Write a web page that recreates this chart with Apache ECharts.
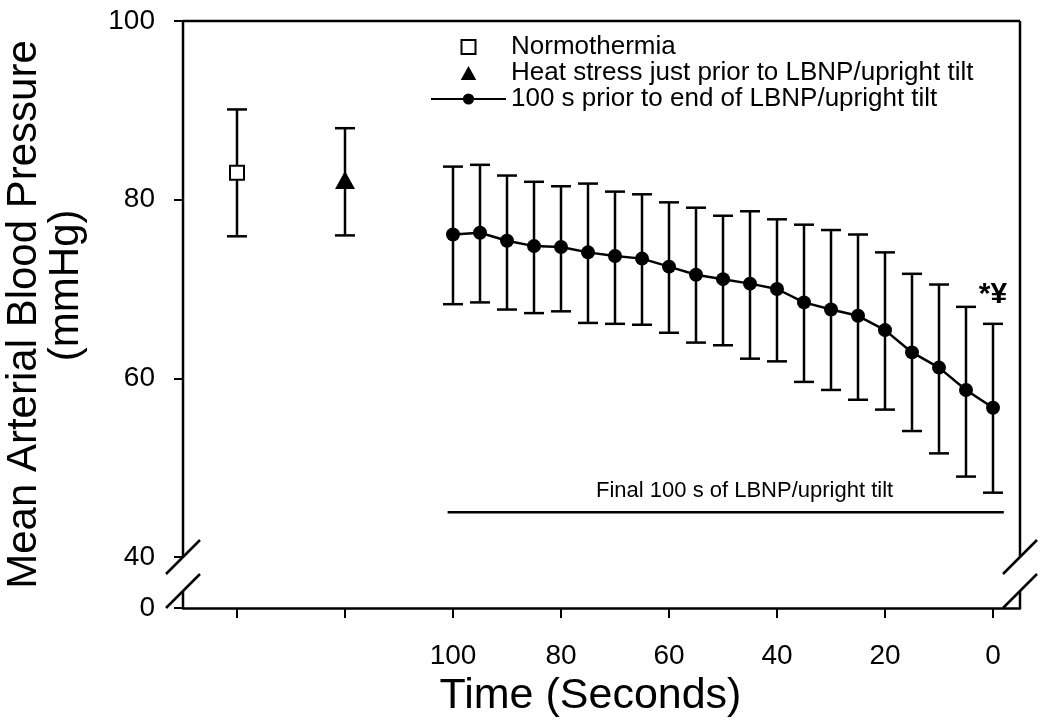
<!DOCTYPE html>
<html>
<head>
<meta charset="utf-8">
<script src="https://cdn.jsdelivr.net/npm/echarts@6/dist/echarts.min.js"></script>
<style>
  html, body { margin: 0; padding: 0; background: #fff; }
  #chart { width: 1041px; height: 728px; }
</style>
</head>
<body>
<div id="chart"></div>
<script>
// time before end of LBNP / upright tilt (s)
var times = [100, 95, 90, 85, 80, 75, 70, 65, 60, 55, 50, 45, 40, 35, 30, 25, 20, 15, 10, 5, 0]
var meanMAP = [76.1, 76.3, 75.4, 74.8, 74.7, 74.1, 73.7, 73.4, 72.5, 71.6, 71.1, 70.6, 70.0, 68.5, 67.7, 67.0, 65.4, 62.9, 61.2, 58.7, 56.7]
var upperMAP = [83.7, 83.9, 82.7, 82.0, 81.5, 81.8, 80.9, 80.6, 79.7, 79.1, 78.2, 78.7, 77.8, 77.2, 76.6, 76.1, 74.1, 71.7, 70.5, 68.0, 66.1]
var lowerMAP = [68.3, 68.5, 67.7, 67.3, 67.5, 66.2, 66.1, 66.0, 65.1, 64.0, 63.7, 62.2, 61.9, 59.6, 58.7, 57.6, 56.5, 54.1, 51.6, 49.0, 47.2]

// the two baseline conditions, placed left of the time axis
var normoX = 140
var normoMAP = [83.0, 75.9, 90.1] // mean, lower, upper
var heatX = 120
var heatMAP = [82.2, 76.0, 88.0]

var xTickValues = [140, 120, 100, 80, 60, 40, 20, 0]
var xLabelValues = [100, 80, 60, 40, 20, 0]

var finalBar = [[101, 45], [-2, 45]]
var finalText = 'Final 100 s of LBNP/upright tilt'
var finalTextPos = [46, 47.4]
var sigText = '*¥'

var names = [
  'Normothermia',
  'Heat stress just prior to LBNP/upright tilt',
  '100 s prior to end of LBNP/upright tilt',
]

var FONT = 'Liberation Sans, Arial, sans-serif'

var errData = times.map(function (t, i) {
  return [t, lowerMAP[i], upperMAP[i]]
})
errData.push([normoX, normoMAP[1], normoMAP[2]])
errData.push([heatX, heatMAP[1], heatMAP[2]])

function renderErrorBar(params, api) {
  var x = api.value(0)
  var lo = api.coord([x, api.value(1)])
  var hi = api.coord([x, api.value(2)])
  var hw = 10
  var style = { stroke: '#000', lineWidth: 2.5 }
  return {
    type: 'group',
    children: [
      { type: 'line', shape: { x1: lo[0], y1: lo[1], x2: hi[0], y2: hi[1] }, style: style },
      { type: 'line', shape: { x1: hi[0] - hw, y1: hi[1], x2: hi[0] + hw, y2: hi[1] }, style: style },
      { type: 'line', shape: { x1: lo[0] - hw, y1: lo[1], x2: lo[0] + hw, y2: lo[1] }, style: style },
    ],
  }
}

var chart = echarts.init(document.getElementById('chart'))
chart.setOption({
  animation: false,
  backgroundColor: '#fff',
  textStyle: { fontFamily: FONT, color: '#000' },
  grid: { left: 183, right: 21, top: 21, bottom: 120, outerBoundsMode: 'none' },
  legend: {
    orient: 'vertical',
    left: 425,
    top: 29,
    itemWidth: 75,
    itemHeight: 14,
    itemGap: 0,
    textStyle: { fontSize: 26, lineHeight: 26, color: '#000', fontFamily: FONT },
    data: [
      { name: names[0], icon: 'path://M0,0H10V10H0Z', itemStyle: { color: '#fff', borderColor: '#000', borderWidth: 2 } },
      { name: names[1], icon: 'path://M5,0L10,9H0Z', itemStyle: { color: '#000' } },
      { name: names[2] },
    ],
  },
  xAxis: {
    type: 'value',
    min: -5,
    max: 150,
    inverse: true,
    name: 'Time (Seconds)',
    nameLocation: 'middle',
    nameGap: 66,
    nameTextStyle: { fontSize: 43, color: '#000', fontFamily: FONT, padding: [0, 22, 0, 0] },
    axisLine: { show: true, onZero: false, lineStyle: { color: '#000', width: 2.5 } },
    axisTick: { show: true, length: 10, customValues: xTickValues, lineStyle: { color: '#000', width: 2 } },
    axisLabel: { customValues: xLabelValues, fontSize: 28, margin: 34, color: '#000', fontFamily: FONT },
    splitLine: { show: false },
  },
  yAxis: {
    type: 'value',
    min: 0,
    max: 100,
    interval: 20,
    // gap is in data units: 5.71 units ~ 51 px at this scale
    breaks: [{ start: 0, end: 40, gap: 5.71 }],
    breakArea: { show: false },
    breakLabelLayout: { moveOverlap: false },
    name: 'Mean Arterial Blood Pressure\n     (mmHg)',
    nameLocation: 'middle',
    nameRotate: 90,
    nameGap: 96,
    nameTextStyle: { fontSize: 42, lineHeight: 42, align: 'center', color: '#000', fontFamily: FONT },
    axisLine: { show: false, onZero: false },
    axisTick: { show: true, length: 9, lineStyle: { color: '#000', width: 2 } },
    axisLabel: { fontSize: 28, margin: 28, color: '#000', fontFamily: FONT },
    splitLine: { show: false },
  },
  series: [
    {
      type: 'custom',
      name: 'error',
      renderItem: renderErrorBar,
      encode: { x: 0, y: [1, 2] },
      data: errData,
      z: 1,
    },
    {
      type: 'scatter',
      name: names[0],
      symbol: 'rect',
      symbolSize: 14,
      itemStyle: { color: '#fff', borderColor: '#000', borderWidth: 2, opacity: 1 },
      data: [[normoX, normoMAP[0]]],
      z: 5,
    },
    {
      type: 'scatter',
      name: names[1],
      symbol: 'triangle',
      symbolSize: [20, 18],
      itemStyle: { color: '#000', opacity: 1 },
      data: [[heatX, heatMAP[0]]],
      z: 5,
    },
    {
      type: 'line',
      name: names[2],
      symbol: 'circle',
      symbolSize: 14,
      itemStyle: { color: '#000' },
      lineStyle: { color: '#000', width: 2.5 },
      data: times.map(function (t, i) { return [t, meanMAP[i]] }),
      z: 5,
    },
    {
      type: 'line',
      name: 'final',
      symbol: 'none',
      lineStyle: { color: '#000', width: 2.5 },
      data: finalBar,
      z: 2,
    },
    {
      type: 'scatter',
      name: 'notes',
      symbolSize: 1,
      itemStyle: { color: 'rgba(0,0,0,0)', opacity: 1 },
      data: [
        { value: finalTextPos, label: { show: true, position: 'inside', formatter: finalText, fontSize: 22, color: '#000', fontFamily: FONT } },
        { value: [0, upperMAP[upperMAP.length - 1]], label: { show: true, position: 'top', distance: 14, formatter: sigText, fontSize: 30, fontWeight: 'bold', color: '#000', fontFamily: FONT } },
      ],
      z: 6,
    },
  ],
})

// frame with the broken-axis marks
function drawFrame() {
  var toPx = function (x, y) { return chart.convertToPixel({ gridIndex: 0 }, [x, y]) }
  var L = toPx(150, 100)[0]
  var R = toPx(-5, 100)[0]
  var T = toPx(150, 100)[1]
  var y40 = toPx(150, 40)[1]
  var y0 = toPx(150, 0)[1]
  var yLow = y0 - 17
  var s = 17
  var st = { stroke: '#000', lineWidth: 2.5 }
  var seg = function (x1, y1, x2, y2) {
    return { type: 'line', shape: { x1: x1, y1: y1, x2: x2, y2: y2 }, style: st, z: 10 }
  }
  var els = [
    seg(L, T, R, T),
    seg(L, T, L, y40),
    seg(L, yLow, L, y0),
    seg(R, T, R, y40),
    seg(R, yLow, R, y0),
  ]
  ;[L, R].forEach(function (x) {
    els.push(seg(x - s, y40 + s, x + s, y40 - s))
    els.push(seg(x - s, yLow + s, x + s, yLow - s))
  })
  chart.setOption({ graphic: els })
}
drawFrame()
</script>
</body>
</html>
